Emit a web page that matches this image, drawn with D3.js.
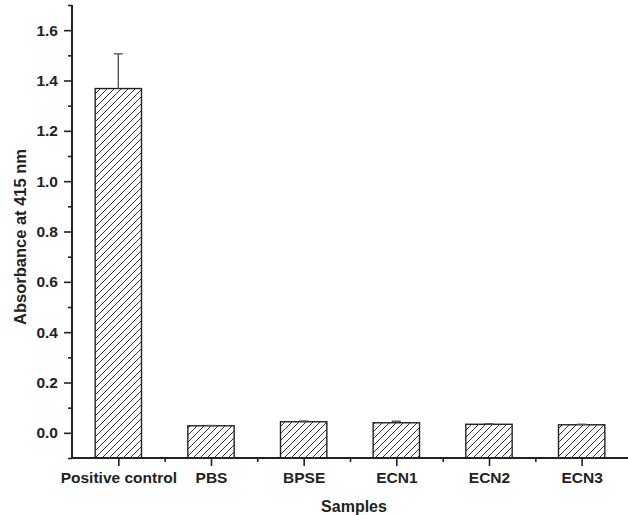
<!DOCTYPE html>
<html>
<head>
<meta charset="utf-8">
<script src="https://cdn.jsdelivr.net/npm/d3@7"></script>
<style>
  body { margin: 0; background: #fff; }
  svg text { font-family: "Liberation Sans", Arial, sans-serif; font-weight: bold; fill: #222; }
</style>
</head>
<body>
<svg id="chart" width="628" height="515"></svg>
<script>
const samples = ["Positive control", "PBS", "BPSE", "ECN1", "ECN2", "ECN3"];
const absorbance = [1.368, 0.028, 0.044, 0.040, 0.034, 0.032];
const errors = [0.138, 0.001, 0.003, 0.006, 0.002, 0.002];
const yTicks = [0.0, 0.2, 0.4, 0.6, 0.8, 1.0, 1.2, 1.4, 1.6];

const svg = d3.select("#chart");
const plotL = 72, plotR = 628, plotT = 5, plotB = 458;

const x = d3.scaleLinear().domain([0.5, samples.length + 0.5]).range([plotL, plotR]);
const y = d3.scaleLinear().domain([-0.1, 1.7]).range([plotB, plotT]);
const step = x(2) - x(1);
const barW = step * 0.5;

// hatch pattern
const defs = svg.append("defs");
const pat = defs.append("pattern")
  .attr("id", "hatch")
  .attr("patternUnits", "userSpaceOnUse")
  .attr("width", 7)
  .attr("height", 7);
pat.append("rect").attr("width", 7).attr("height", 7).attr("fill", "#fff");
pat.append("path")
  .attr("d", "M-1,8 L8,-1 M-1,1 L1,-1 M6,8 L8,6")
  .attr("stroke", "#333")
  .attr("stroke-width", 1);

// bars
svg.append("g")
  .selectAll("rect")
  .data(absorbance)
  .join("rect")
  .attr("x", (_, i) => x(i + 1) - barW / 2)
  .attr("y", (d) => y(d))
  .attr("width", barW)
  .attr("height", (d) => y(-0.1) - y(d))
  .attr("fill", "url(#hatch)")
  .attr("stroke", "#222")
  .attr("stroke-width", 1.4);

// error bars (upper only)
const eb = svg.append("g").attr("stroke", "#555").attr("stroke-width", 1.4);
absorbance.forEach((v, i) => {
  const cx = x(i + 1);
  eb.append("line").attr("x1", cx).attr("x2", cx).attr("y1", y(v)).attr("y2", y(v + errors[i]));
  eb.append("line").attr("x1", cx - 4.5).attr("x2", cx + 4.5).attr("y1", y(v + errors[i])).attr("y2", y(v + errors[i]));
});

// y axis
const yMinor = svg.append("g").attr("transform", `translate(${plotL},0)`);
yMinor.call(d3.axisLeft(y).tickValues(d3.range(-0.1, 1.71, 0.2).map((d) => +d.toFixed(1))).tickSize(4).tickFormat(""));
yMinor.select(".domain").remove();
yMinor.selectAll(".tick line").attr("stroke-width", 1.6).attr("stroke", "#222");
const yMajor = svg.append("g").attr("transform", `translate(${plotL},0)`);
yMajor.call(d3.axisLeft(y).tickValues(yTicks).tickSize(8).tickPadding(6).tickFormat(d3.format(".1f")));
yMajor.select(".domain").attr("d", `M0,${plotB}V${plotT}`).attr("stroke-width", 2).attr("stroke", "#222");
yMajor.selectAll(".tick line").attr("stroke-width", 1.6).attr("stroke", "#222");
yMajor.selectAll(".tick text").attr("font-size", 15.5).attr("fill", "#222");

// x axis
const xMinor = svg.append("g").attr("transform", `translate(0,${plotB})`);
xMinor.call(d3.axisBottom(x).tickValues(d3.range(1.5, samples.length, 1)).tickSize(4).tickFormat(""));
xMinor.select(".domain").remove();
xMinor.selectAll(".tick line").attr("stroke-width", 1.6).attr("stroke", "#222");
const xAxis = svg.append("g").attr("transform", `translate(0,${plotB})`);
xAxis.call(d3.axisBottom(x).tickValues(d3.range(1, samples.length + 1)).tickSize(8).tickPadding(6).tickFormat((d) => samples[d - 1]));
xAxis.select(".domain").attr("d", `M${plotL},0H${plotR}`).attr("stroke-width", 2).attr("stroke", "#222");
xAxis.selectAll(".tick line").attr("stroke-width", 1.6).attr("stroke", "#222");
xAxis.selectAll(".tick text").attr("font-size", 15.5).attr("fill", "#222");

// axis titles
svg.append("text")
  .attr("x", 354)
  .attr("y", 512)
  .attr("text-anchor", "middle")
  .attr("font-size", 16)
  .text("Samples");

svg.append("text")
  .attr("transform", `translate(26,237) rotate(-90)`)
  .attr("text-anchor", "middle")
  .attr("font-size", 16.5)
  .text("Absorbance at 415 nm");
</script>
</body>
</html>
